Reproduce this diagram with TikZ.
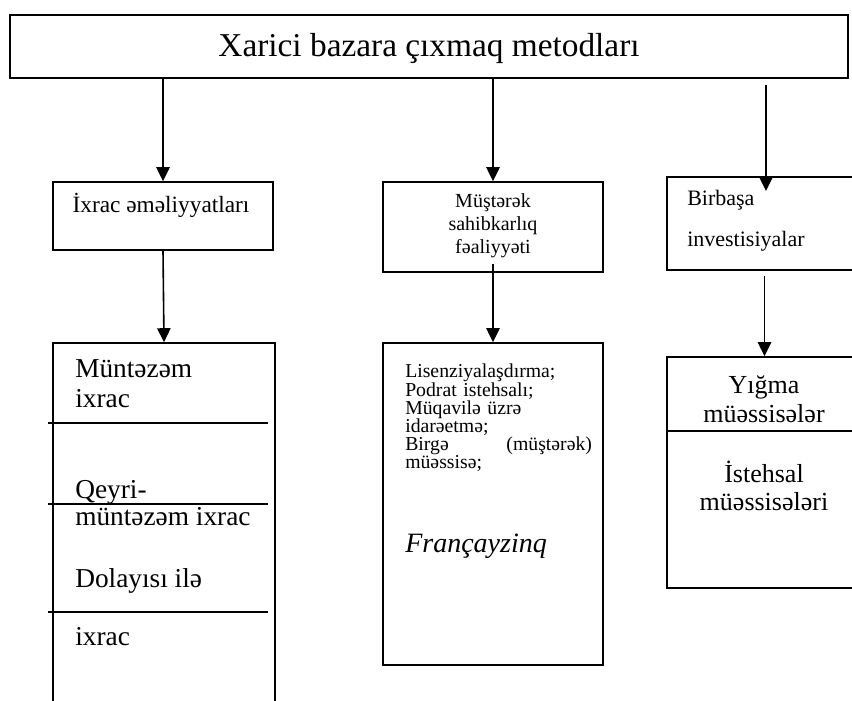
\documentclass[tikz,border=0pt]{standalone}
\usepackage{fontspec}
\setmainfont{Liberation Serif}
\usetikzlibrary{arrows.meta,fit}
\tikzset{
    plain-box/.style = {draw=black, line width=1.2pt, rectangle, inner sep=0pt},
    box-text/.style = {inner sep=0pt, align=left},
    down-arrow/.style = {draw=black, line width=1.2pt, -{Triangle[width=10pt,length=10.5pt]}},
    split-line/.style = {draw=black, line width=1.2pt},
}
\newcommand{\fs}[2]{\fontsize{#1}{#2}\selectfont\lineskiplimit=-20pt}

\begin{document}
\begin{tikzpicture}[x=0.75pt,y=-0.75pt]
\useasboundingbox (0,0) rectangle (852,700);

% top box
\node[plain-box, fit={(10,15) (848,78)}] (title) {};
\node[box-text, anchor=base, font=\fs{25pt}{30pt}] (title-text) at (429,56) {Xarici bazara çıxmaq metodları};

% second row
\node[plain-box, fit={(53,182) (273,250)}] (ixrac) {};
\node[box-text, anchor=base, font=\fs{17.5pt}{21pt}] (ixrac-text) at (161,212) {İxrac əməliyyatları};
\node[plain-box, fit={(383,182) (603,272)}] (muster) {};
\foreach \y/\t in {207/Müştərək, 230/sahibkarlıq, 253/fəaliyyəti}
    \node[box-text, anchor=base, font=\fs{15pt}{18pt}] (muster-\y) at (493,\y) {\t};
\node[plain-box, fit={(667,177) (862,270)}] (birbasa) {};
\node[box-text, anchor=base west, font=\fs{16.5pt}{20pt}] (birbasa-1) at (687,205) {Birbaşa};
\node[box-text, anchor=base west, font=\fs{16.5pt}{20pt}] (birbasa-2) at (687,246) {investisiyalar};

% third row
\node[plain-box, fit={(53,343) (275,712)}] (ixrac-kind) {};
\draw[split-line] (48,423) -- (268,423);
\draw[split-line] (48,504) -- (268,504);
\draw[split-line] (48,612) -- (268,612);
\foreach \y/\t in {377/Müntəzəm, 407/ixrac, 498/Qeyri-, 525/müntəzəm ixrac, 587/Dolayısı ilə, 645/ixrac}
    \node[box-text, anchor=base west, font=\fs{20.5pt}{24pt}] (kind-\y) at (75,\y) {\t};

\node[plain-box, fit={(383,343) (603,665)}] (lisenz) {};
\node[box-text, anchor=north west, text width=140pt, font=\fs{14.8pt}{13.6pt}] (lisenz-text) at (405,364)
    {Lisenziyalaşdırma;\\Podrat istehsalı;\\Müqavilə üzrə\\idarəetmə;\\Birgə\hfill(müştərək)\\müəssisə;};
\node[box-text, anchor=base west, font=\itshape\fs{21pt}{25pt}] (francayzinq) at (405,552) {Françayzinq};

\node[plain-box, fit={(667,357) (862,588)}] (yigma) {};
\draw[split-line] (667,431) -- (862,431);
\foreach \y/\t in {393/Yığma, 422/müəssisələr, 482/İstehsal, 510/müəssisələri}
    \node[box-text, anchor=base, font=\fs{19.5pt}{23pt}] (yigma-\y) at (764,\y) {\t};

% arrows
\draw[down-arrow] (title.south -| ixrac.north) -- (ixrac.north);
\draw[down-arrow] (title.south -| muster.north) -- (muster.north);
\coordinate (from-title) at (766,85);
\coordinate (into-birbasa) at (766,191);
\draw[down-arrow] (from-title) -- (into-birbasa);
\draw[down-arrow] (ixrac.south) -- (ixrac-kind.north);
\draw[down-arrow] ([yshift=6.75pt]muster.south) -- (lisenz.north);
\draw[down-arrow] ([yshift=-3.75pt]birbasa.south) -- (yigma.north);
\end{tikzpicture}
\end{document}
